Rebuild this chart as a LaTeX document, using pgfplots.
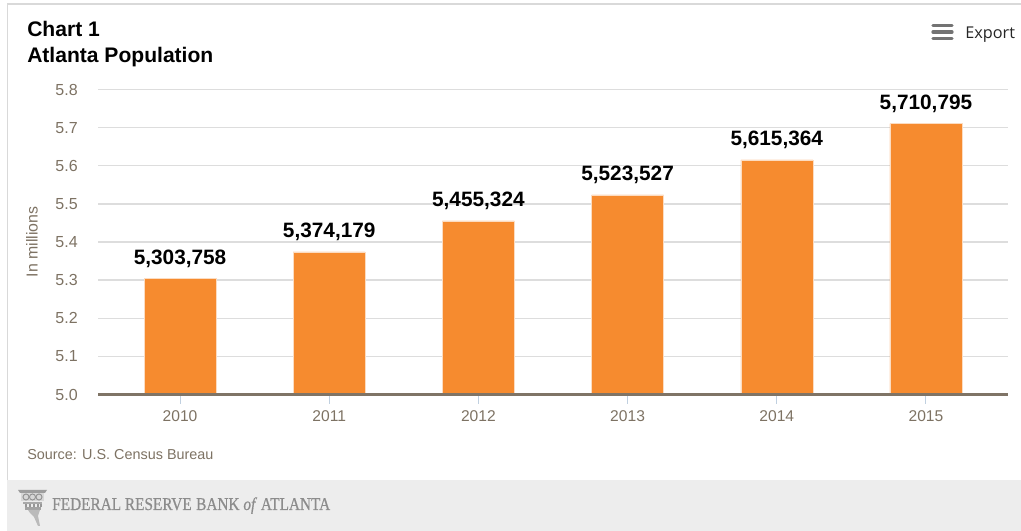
\documentclass[border=0pt]{standalone}
\usepackage{fontspec}
\setmainfont{Liberation Sans}
\newfontfamily\exportfont{Open Sans}
\newfontfamily\bankfont[FakeStretch=0.85,FakeBold=0.6]{Liberation Serif}
\usepackage{pgfplots}
\usepackage{pgfplotstable}
\pgfplotsset{compat=1.18}
\definecolor{barorange}{HTML}{F68B2F}
\definecolor{labelbrown}{HTML}{7D7263}
\definecolor{zeroline}{HTML}{7F7466}
\definecolor{gridgrey}{HTML}{DDDDDD}
\definecolor{framegrey}{HTML}{D9D9D9}
\definecolor{footergrey}{HTML}{EDEDED}
\definecolor{banktext}{HTML}{8C8C8C}
\definecolor{tickblue}{HTML}{C0D0E0}
\pgfplotstableread[col sep=comma]{
idx,pop,label
0,5.303758,{5,303,758}
1,5.374179,{5,374,179}
2,5.455324,{5,455,324}
3,5.523527,{5,523,527}
4,5.615364,{5,615,364}
5,5.710795,{5,710,795}
}\population
\begin{document}
\begin{tikzpicture}
\path[use as bounding box] (0,0) rectangle (765.75pt,398.25pt);
% page furniture, laid out in screen pixels from the top left corner
\begin{scope}[x=0.75pt,y=-0.75pt,yshift=398.25pt]
  \fill[footergrey] (7,480) rectangle (1021,531);
  \draw[framegrey,line width=1.1pt] (1021,4) -- (7.5,4) -- (7.5,480);
  \node[anchor=base west,inner sep=0pt,font=\bfseries\fontsize{15.8pt}{18pt}\selectfont] at (27,37) {Chart 1};
  \node[anchor=base west,inner sep=0pt,font=\bfseries\fontsize{15.8pt}{18pt}\selectfont] at (27,63) {Atlanta Population};
  \node[anchor=base west,inner sep=0pt,text=labelbrown,font=\fontsize{10.8pt}{12pt}\selectfont] at (27,460) {Source: U.S. Census Bureau};
  \node[anchor=base west,inner sep=0pt,text=black!85,font=\exportfont\fontsize{12.2pt}{14pt}\selectfont] at (965,39) {Export};
  \foreach \yy in {25.5,32,38.5}
    \draw[line width=2.5pt,line cap=round,black!55] (933,\yy) -- (952,\yy);
  % bank emblem: Corinthian capital over a tapering column
  \fill[banktext!85] (18,490) -- (47,490) -- (45,493) -- (20,493) -- cycle;
  \fill[banktext!35] (21,493) rectangle (44,501);
  \foreach \cx in {26,32.5,39} \draw[banktext!95,line width=0.7pt] (\cx,497) circle[radius=3];
  \fill[banktext!75] (23,502) rectangle (42,504);
  \foreach \cx in {25,29,33,37,40} \fill[banktext!90] (\cx,504) rectangle ++(2,3);
  \fill[banktext!80] (25,507) rectangle (41,510);
  \fill[banktext!60] (28,510) -- (40,510) -- (38,516) -- (40,526) -- (38,526) -- (34,517) -- (30,513) -- cycle;
  \node[anchor=base west,inner sep=0pt,text=banktext,font=\bankfont\fontsize{13.5pt}{15pt}\selectfont] at (52,510)
    {FEDERAL RESERVE\hspace{0.25em}BANK \textit{of} ATLANTA};
\end{scope}
\begin{axis}[
  at={(73.5pt,102.375pt)}, anchor=south west,
  scale only axis, width=682.5pt, height=228.75pt,
  xmin=-0.55, xmax=5.55, ymin=5.0, ymax=5.8,
  ybar, bar width=54pt,
  ytick={5.0,5.1,...,5.8},
  yticklabel style={/pgf/number format/fixed,/pgf/number format/fixed zerofill,/pgf/number format/precision=1,
    text=labelbrown,font=\fontsize{12pt}{14pt}\selectfont,inner sep=0pt,xshift=-15pt+7.5pt},
  /pgf/number format/assume math mode=true,
  xtick={0,...,5}, xticklabels={2010,2011,2012,2013,2014,2015},
  ymajorgrids, grid style={gridgrey,line width=1pt},
  axis line style={draw=none},
  y tick style={draw=none},
  x tick style={draw=none},
  xtick pos=bottom, ytick pos=left,
  major tick length=7.5pt,
  tick align=outside,
  xticklabel style={text=labelbrown,font=\fontsize{11.7pt}{14pt}\selectfont,inner sep=0pt,yshift=-4.25pt},
  clip=false,
  ylabel={In millions},
  ylabel shift=13pt,
  ylabel style={text=labelbrown,font=\fontsize{11.9pt}{14pt}\selectfont,inner sep=0pt},
  nodes near coords,
  point meta=explicit symbolic,
  nodes near coords style={font=\bfseries\fontsize{15.6pt}{18pt}\selectfont,text=black,anchor=south,inner sep=0pt,yshift=8.25pt},
]
\addplot[draw=white!70!barorange,line width=0.4pt,fill=barorange,bar shift=0pt]
  table[x=idx,y=pop,meta=label,col sep=comma] {\population};
% category tick marks hanging from the zero line
\pgfplotsinvokeforeach{0,...,5}{
  \draw[tickblue,line width=0.75pt] (axis cs:#1,5.0) -- ++(0pt,-7.5pt);
}
% heavy zero line of the truncated axis, above the bar feet
\draw[zeroline,line width=2.2pt] (axis cs:-0.55,5.0) -- (axis cs:5.55,5.0);
\end{axis}
\end{tikzpicture}
\end{document}
